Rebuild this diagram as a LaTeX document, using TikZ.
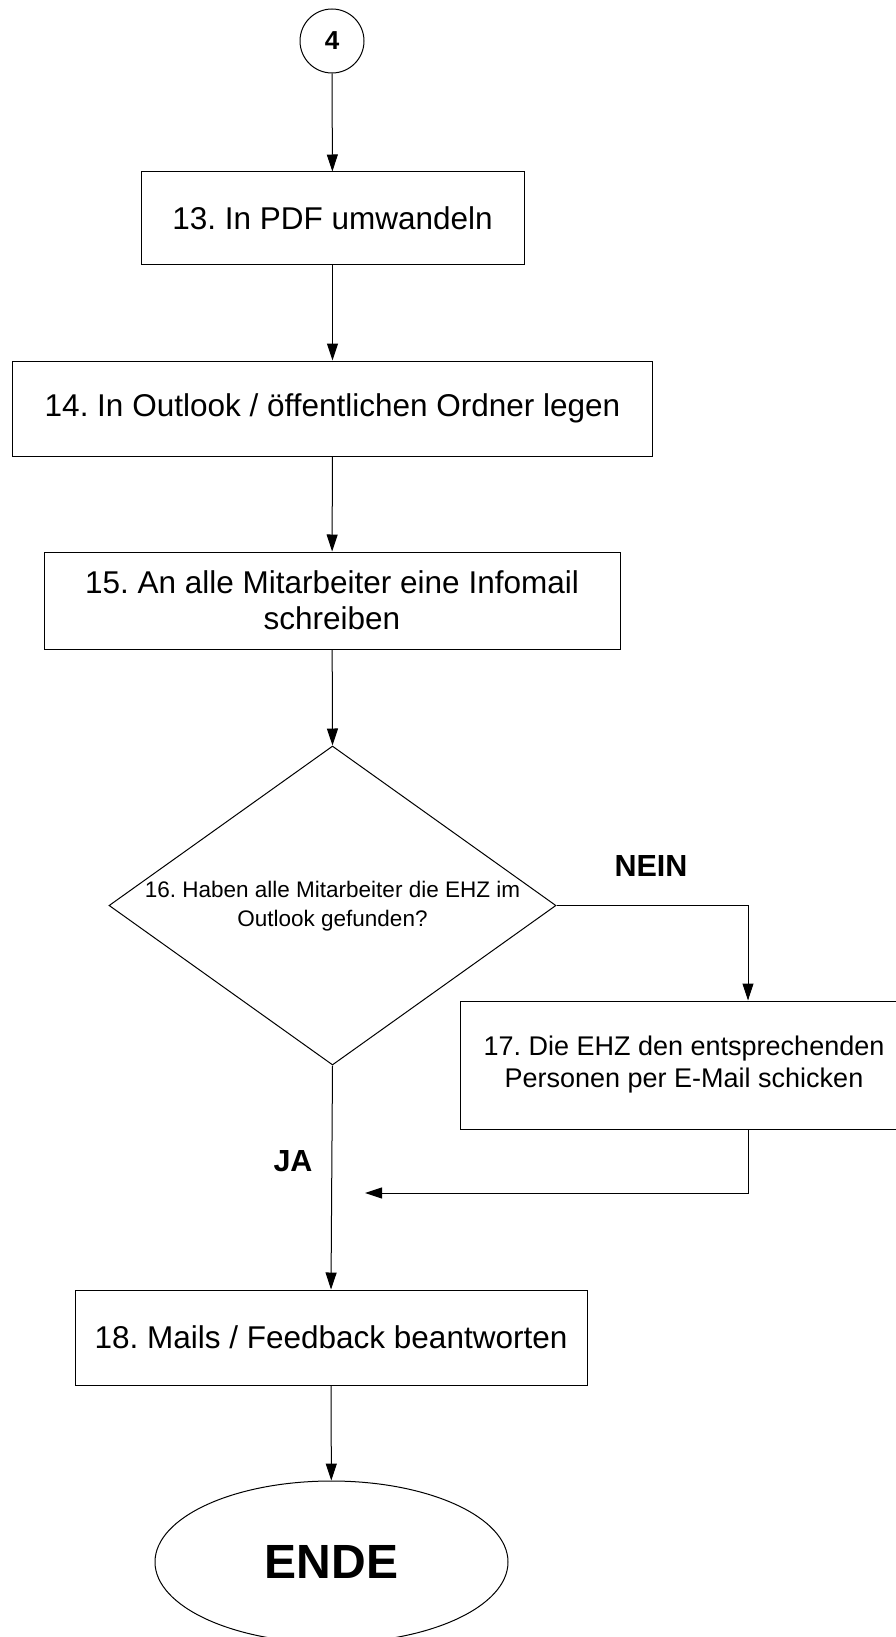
\documentclass[tikz,border=0pt]{standalone}
\usepackage{fontspec}
\setmainfont{Liberation Sans}
\frenchspacing
\usetikzlibrary{shapes.geometric,arrows.meta}

\tikzset{
box/.style={draw, line width=1pt, align=center, inner sep=0pt, font=\fontsize{31.5}{36}\selectfont},
decision/.style={draw, diamond, line width=1pt, inner sep=0pt},
flow/.style={draw, line width=1pt, -{Triangle[length=17pt, width=11pt]}},
answer/.style={font=\fontsize{30.5}{34}\selectfont\bfseries}
}

\begin{document}
\begin{tikzpicture}[x=1pt, y=-1pt]
\useasboundingbox (0,0) rectangle (896,1637);

\node (c4) at (332,41) [draw, circle, line width=1pt, minimum size=64pt, inner sep=0pt, font=\fontsize{26}{30}\selectfont\bfseries] {4};
\node (b13) at (332.5,218) [box, minimum width=383pt, minimum height=92pt] {13. In PDF umwandeln};
\node (b14) at (332.5,408.5) [box, minimum width=640.5pt, minimum height=95pt] {14. In Outlook / öffentlichen Ordner legen};
\node (b15) at (332,600.5) [box, minimum width=576pt, minimum height=97pt] {15. An alle Mitarbeiter eine Infomail\\schreiben};
\node (q16) at (332.5,905.5) [decision, minimum width=447pt, minimum height=319pt] {};
\node (q16text) at (332.5,906) [align=center, font=\fontsize{22.5}{28.5}\selectfont] {16. Haben alle Mitarbeiter die EHZ im\\Outlook gefunden?};
\node (b17) at (684,1065) [box, minimum width=448pt, minimum height=128pt, font=\fontsize{27}{32}\selectfont] {17. Die EHZ den entsprechenden\\Personen per E-Mail schicken};
\node (b18) at (331,1337.5) [box, minimum width=512pt, minimum height=95pt] {18. Mails / Feedback beantworten};
\node (ende) at (331.5,1562) [draw, ellipse, line width=1pt, minimum width=353pt, minimum height=162pt, inner sep=0pt, font=\fontsize{48}{52}\selectfont\bfseries] {ENDE};

\node (nein) at (651,866) [answer] {NEIN};
\node (ja) at (293,1161) [answer] {JA};

\coordinate (neinturn) at (748,905.5);
\coordinate (backturn) at (748,1193);
\coordinate (back) at (365,1193);

\draw[flow] (c4) -- (b13);
\draw[flow] (b13) -- (b14);
\draw[flow] (b14) -- (b15);
\draw[flow] (b15) -- (q16.north);
\draw[flow] (q16.east) -- (neinturn) -- (neinturn |- b17.north);
\draw[flow] (backturn |- b17.south) -- (backturn) -- (back);
\draw[flow] (q16.south) -- (b18.north);
\draw[flow] (b18) -- (ende);
\end{tikzpicture}
\end{document}
